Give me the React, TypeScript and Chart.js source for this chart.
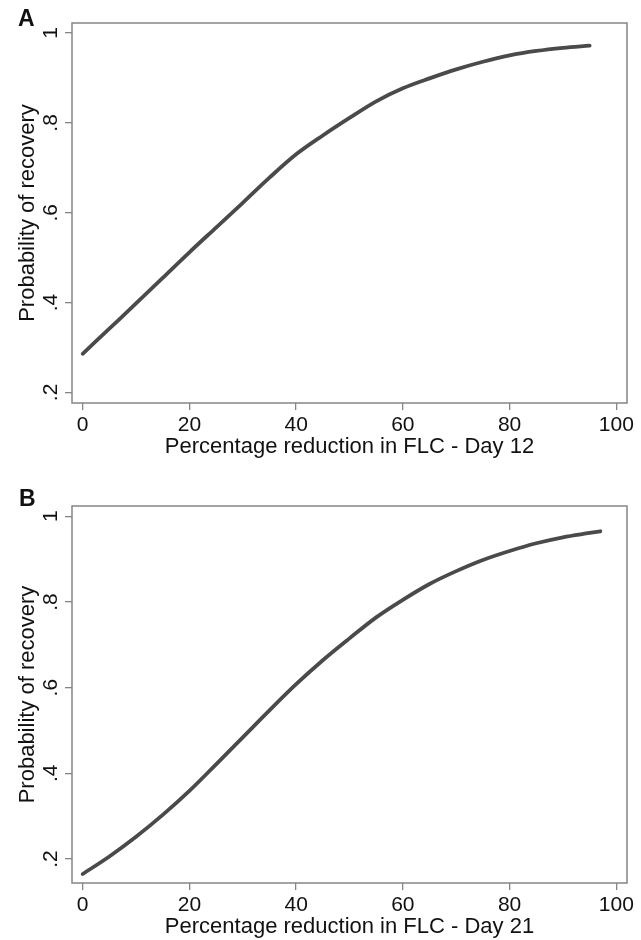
import React, { useEffect, useRef } from 'react';
import { Chart, registerables } from 'chart.js';

Chart.register(...registerables);

// ---- data ----
const xTickValues = [0, 20, 40, 60, 80, 100];
const yTickValues = [0.2, 0.4, 0.6, 0.8, 1];
const yTickLabels = ['.2', '.4', '.6', '.8', '1'];

const reductionA = [0, 5, 10, 15, 20, 25, 30, 35, 40, 45, 50, 55, 60, 65, 70, 75, 80, 85, 90, 95];
const probA = [0.286, 0.342, 0.398, 0.455, 0.512, 0.567, 0.622, 0.678, 0.730, 0.772, 0.811, 0.848, 0.877, 0.899, 0.919, 0.936, 0.95, 0.96, 0.967, 0.972];

const reductionB = [0, 5, 10, 15, 20, 25, 30, 35, 40, 45, 50, 55, 60, 65, 70, 75, 80, 85, 90, 95, 97];
const probB = [0.165, 0.206, 0.252, 0.303, 0.359, 0.421, 0.484, 0.547, 0.608, 0.664, 0.715, 0.764, 0.805, 0.842, 0.872, 0.898, 0.919, 0.937, 0.951, 0.961, 0.965];

const xTitleA = 'Percentage reduction in FLC - Day 12';
const xTitleB = 'Percentage reduction in FLC - Day 21';
const yTitle = 'Probability of recovery';

const FONT = '"Liberation Sans", Arial, Helvetica, sans-serif';
const AXIS_GRAY = '#858585';
const TEXT = '#111111';
const LINE = '#4a4a4a';

const boxPlugin = {
  id: 'plotBox',
  beforeDatasetsDraw(chart: any) {
    const { ctx, chartArea } = chart;
    ctx.save();
    ctx.strokeStyle = AXIS_GRAY;
    ctx.lineWidth = 1.5;
    ctx.strokeRect(chartArea.left, chartArea.top, chartArea.right - chartArea.left, chartArea.bottom - chartArea.top);
    ctx.restore();
  },
};

function makeConfig(xs: number[], ys: number[], xTitle: string, yMin: number, yMax: number, padTop: number, xHeight: number, titlePadBottom: number): any {
  return {
    type: 'line',
    data: {
      datasets: [
        {
          data: xs.map((x, i) => ({ x, y: ys[i] })),
          borderColor: LINE,
          borderWidth: 3.8,
          pointRadius: 0,
          cubicInterpolationMode: 'monotone',
          borderCapStyle: 'round',
          fill: false,
        },
      ],
    },
    options: {
      responsive: false,
      animation: false,
      devicePixelRatio: 1,
      layout: { padding: { left: 0, right: 14, top: padTop, bottom: 0 } },
      plugins: { legend: { display: false }, tooltip: { enabled: false }, title: { display: false } },
      scales: {
        x: {
          type: 'linear',
          min: -2,
          max: 102,
          afterBuildTicks: (s: any) => { s.ticks = xTickValues.map((v) => ({ value: v })); },
          afterFit: (s: any) => { s.height = xHeight; },
          border: { display: false },
          grid: { display: true, drawOnChartArea: false, drawTicks: true, tickLength: 7, color: AXIS_GRAY, lineWidth: 1.3 },
          ticks: { color: TEXT, font: { family: FONT, size: 21 }, padding: 3, maxRotation: 0, minRotation: 0, callback: (v: any) => String(v) },
          title: { display: true, text: xTitle, color: TEXT, font: { family: FONT, size: 22 }, padding: { top: 0, bottom: titlePadBottom } },
        },
        y: {
          type: 'linear',
          min: yMin,
          max: yMax,
          afterBuildTicks: (s: any) => { s.ticks = yTickValues.map((v) => ({ value: v })); },
          afterFit: (s: any) => { s.width = 72; },
          border: { display: false },
          grid: { display: true, drawOnChartArea: false, drawTicks: true, tickLength: 7, color: AXIS_GRAY, lineWidth: 1.3 },
          ticks: {
            color: TEXT,
            font: { family: FONT, size: 21 },
            padding: 5,
            minRotation: 90,
            maxRotation: 90,
            crossAlign: 'center',
            callback: (_v: any, i: number) => yTickLabels[i],
          },
          title: { display: true, text: yTitle, color: TEXT, font: { family: FONT, size: 22 }, padding: { top: 15, bottom: 0 } },
        },
      },
    },
    plugins: [boxPlugin],
  };
}

function Panel(props: { xs: number[]; ys: number[]; xTitle: string; yMin: number; yMax: number; padTop: number; xHeight: number; titlePadBottom: number }) {
  const ref = useRef<HTMLCanvasElement | null>(null);
  useEffect(() => {
    if (!ref.current) return;
    const chart = new Chart(ref.current, makeConfig(props.xs, props.ys, props.xTitle, props.yMin, props.yMax, props.padTop, props.xHeight, props.titlePadBottom));
    return () => chart.destroy();
  }, []);
  return <canvas ref={ref} width={641} height={470} style={{ display: 'block', width: 641, height: 470 }} />;
}

const letterStyle: React.CSSProperties = {
  position: 'absolute',
  fontFamily: FONT,
  fontWeight: 'bold',
  fontSize: 23,
  lineHeight: '23px',
  color: TEXT,
};

export default function App() {
  return (
    <div style={{ position: 'absolute', left: 0, top: 0, width: 641, height: 940, background: '#ffffff' }}>
      <Panel xs={reductionA} ys={probA} xTitle={xTitleA} yMin={0.1765} yMax={1.0223} padTop={23} xHeight={67} titlePadBottom={10} />
      <Panel xs={reductionB} ys={probB} xTitle={xTitleB} yMin={0.144} yMax={1.024} padTop={36} xHeight={57} titlePadBottom={0} />
      <div style={{ ...letterStyle, left: 18, top: 7 }}>A</div>
      <div style={{ ...letterStyle, left: 19, top: 487 }}>B</div>
    </div>
  );
}
